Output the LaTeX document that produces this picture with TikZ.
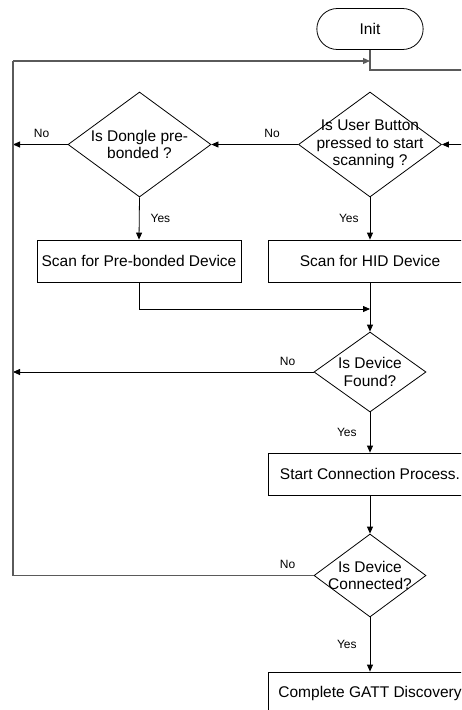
\documentclass[tikz,border=0pt]{standalone}
\usepackage{fontspec}
\setmainfont{Liberation Sans}
\usetikzlibrary{positioning, arrows.meta, shapes.geometric, shapes.misc}
\definecolor{loopGray}{RGB}{90,90,90}
\tikzset{
  flowLine/.style={draw=black, line width=0.8pt},
  loopLine/.style={draw=loopGray, line width=1.2pt},
  tipArrow/.style={-{Triangle[length=7pt,width=6pt]}},
  termNode/.style={
    draw, rounded rectangle, line width=0.8pt,
    minimum width=113pt, minimum height=41pt,
    font=\fontsize{15.5}{18}\selectfont
  },
  procBox/.style={
    draw, rectangle, line width=0.8pt, inner sep=0pt,
    minimum width=204pt, minimum height=42pt,
    font=\fontsize{15.5}{18}\selectfont
  },
  decision/.style 2 args={
    draw, diamond, line width=0.8pt, inner sep=0pt,
    minimum width=#1, minimum height=#2
  },
  qText/.style={align=center, inner sep=0pt, font=\fontsize{15.5}{17.5}\selectfont},
  noLabel/.style={pos=0, xshift=-26pt, yshift=11pt, font=\fontsize{12}{12}\selectfont},
  yesLabel/.style={midway, inner sep=1pt, font=\fontsize{12}{12}\selectfont}
}
\begin{document}
\begin{tikzpicture}[x=1pt, y=-1pt]
  \useasboundingbox (0,0) rectangle (461,710);
  \clip (0,0) rectangle (461,710);

  % Nodes
  \node[termNode] (init) at (370,29) {Init};
  \node[decision={143pt}{105pt}, label={[qText]center:{Is User Button\\pressed to start\\scanning ?}}] (userBtn) at (370,144.5) {};
  \node[decision={143pt}{105pt}, label={[qText]center:{Is Dongle pre-\\bonded ?}}] (dongle) at (139.5,144.5) {};
  \node[procBox] (scanPre) at (139,261) {Scan for Pre-bonded Device};
  \node[procBox] (scanHid) at (370,261) {Scan for HID Device};
  \node[decision={112pt}{80pt}, label={[qText]center:{Is Device\\Found?}}] (found) at (370,372) {};
  \node[procBox] (startConn) at (370,474) {Start Connection Process.};
  \node[decision={112pt}{83pt}, label={[qText]center:{Is Device\\Connected?}}] (connected) at (370,575.5) {};
  \node[procBox] (gattDisc) at (370,693) {Complete GATT Discovery};

  % Loop points
  \coordinate (topLeft) at (13,61);
  \coordinate (botLeft) at (13,575.5);
  \coordinate (initTurn) at (370,70);
  \coordinate (offRight) at (475,70);
  \coordinate (inRight) at (475,144.5);
  \coordinate (mergePt) at (370,309);

  % Connectors
  \draw[loopLine] (init.south) -- (initTurn) -- (offRight);
  \draw[loopLine, tipArrow] (topLeft) -- (topLeft -| init.south);
  \draw[flowLine, tipArrow] (inRight) -- (userBtn.east);
  \draw[flowLine, tipArrow] (userBtn.west) -- node[noLabel] {No} (dongle.east);
  \draw[flowLine, tipArrow] (dongle.west) -- node[noLabel] {No} (dongle.west -| topLeft);
  \draw[flowLine, tipArrow] (dongle.south) -- node[yesLabel, right=10pt] {Yes} (scanPre.north);
  \draw[flowLine, tipArrow] (userBtn.south) -- node[yesLabel, left=10pt] {Yes} (scanHid.north);
  \draw[flowLine, tipArrow] (scanPre.south) |- (mergePt);
  \draw[flowLine, tipArrow] (scanHid.south) -- (found.north);
  \draw[flowLine, tipArrow] (found.west) -- node[noLabel] {No} (found.west -| topLeft);
  \draw[flowLine, tipArrow] (found.south) -- node[yesLabel, left=12pt] {Yes} (startConn.north);
  \draw[flowLine, tipArrow] (startConn.south) -- (connected.north);
  \draw[loopLine] (connected.west) -- node[noLabel] {No} (botLeft) -- (topLeft);
  \draw[flowLine, tipArrow] (connected.south) -- node[yesLabel, left=12pt] {Yes} (gattDisc.north);
\end{tikzpicture}
\end{document}
